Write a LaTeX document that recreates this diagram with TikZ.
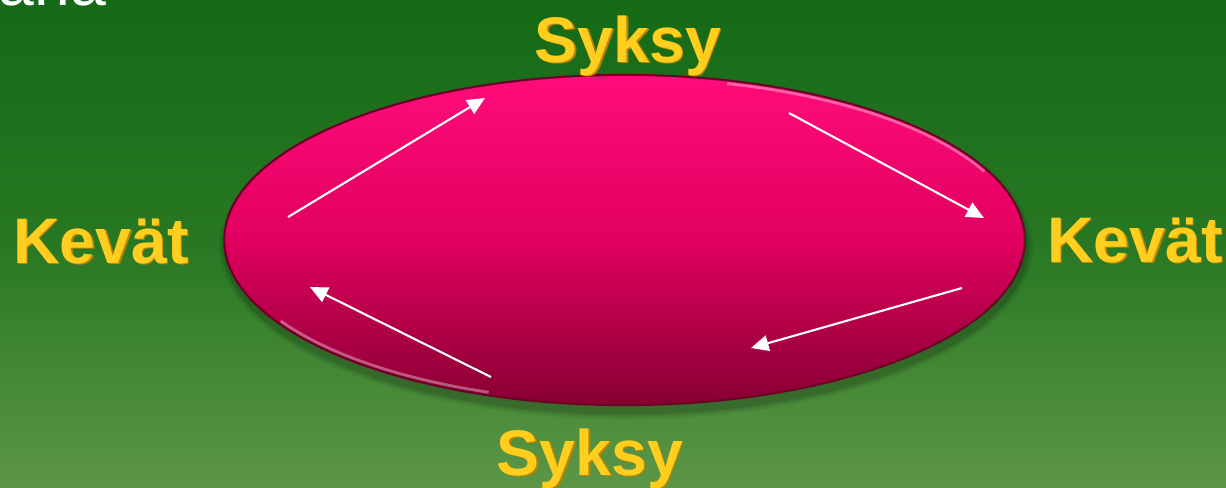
\documentclass[tikz,border=0pt]{standalone}
\usepackage{fontspec}
\setmainfont{Liberation Sans}
\usetikzlibrary{arrows.meta,shapes.geometric}
\definecolor{bgtop}{RGB}{21,106,22}
\definecolor{bgmid}{RGB}{40,120,35}
\definecolor{bgbot}{RGB}{92,150,70}
\definecolor{pinktop}{RGB}{255,12,122}
\definecolor{pinkmid}{RGB}{225,0,95}
\definecolor{pinkbot}{RGB}{135,0,50}
\definecolor{rim}{RGB}{110,0,40}
\definecolor{gold}{RGB}{255,206,30}
\definecolor{goldedge}{RGB}{190,130,0}
\tikzset{
  season/.style={font=\fontsize{18.3}{21}\selectfont\bfseries, text=gold, anchor=base, inner sep=0pt},
  seasonshadow/.style={font=\fontsize{18.3}{21}\selectfont\bfseries, text=goldedge, anchor=base, inner sep=0pt},
  cyclearrow/.style={white, line width=0.6pt, -{Triangle[length=5pt,width=4.5pt]}},
}
\begin{document}
\begin{tikzpicture}[x=0.01cm,y=-0.01cm]
\useasboundingbox (0,0) rectangle (1226,487);
\clip (0,0) rectangle (1226,487);
\shade[top color=bgtop, bottom color=bgbot, middle color=bgmid] (0,0) rectangle (1226,487);
% partially visible text at top left
\node[font=\fontsize{18.3}{21}\selectfont, text=white, anchor=base west, inner sep=0pt] (ana) at (-2,5) {ana};
% shadow of ellipse
\foreach \o/\r in {0.06/14,0.08/9,0.10/5}{
  \fill[black,opacity=\o] (626,247) ellipse [x radius=400+\r*0.5, y radius=165+\r*0.5];
}
% ellipse
\node[ellipse, minimum width=8cm, minimum height=3.3cm, inner sep=0pt,
      top color=pinktop, bottom color=pinkbot, middle color=pinkmid,
      draw=rim, line width=0.6pt] (cycle) at (624.5,240) {};
% highlight rim
\draw[white, opacity=0.35, line width=0.8pt] (cycle.center) ++(-75:397 and 162) arc[start angle=-75, end angle=-25, x radius=397, y radius=162];
\draw[white, opacity=0.35, line width=0.8pt] (cycle.center) ++(110:397 and 162) arc[start angle=110, end angle=150, x radius=397, y radius=162];
% arrows
\coordinate (a1s) at (288,217); \coordinate (a1e) at (485,98);
\coordinate (a2s) at (789,113); \coordinate (a2e) at (984,218);
\coordinate (a3s) at (962,288); \coordinate (a3e) at (751,348);
\coordinate (a4s) at (491,377); \coordinate (a4e) at (310,287);
\draw[cyclearrow] (a1s) -- (a1e);
\draw[cyclearrow] (a2s) -- (a2e);
\draw[cyclearrow] (a3s) -- (a3e);
\draw[cyclearrow] (a4s) -- (a4e);
% labels
\node[seasonshadow] at (629.5,63.5) {Syksy};
\node[season] (syksytop) at (628,62) {Syksy};
\node[seasonshadow] at (591.5,476.5) {Syksy};
\node[season] (syksybot) at (590,475) {Syksy};
\node[seasonshadow] at (102.5,264.5) {Kevät};
\node[season] (kevatleft) at (101,263) {Kevät};
\node[seasonshadow] at (1136.5,263.5) {Kevät};
\node[season] (kevatright) at (1135,262) {Kevät};
\end{tikzpicture}
\end{document}
